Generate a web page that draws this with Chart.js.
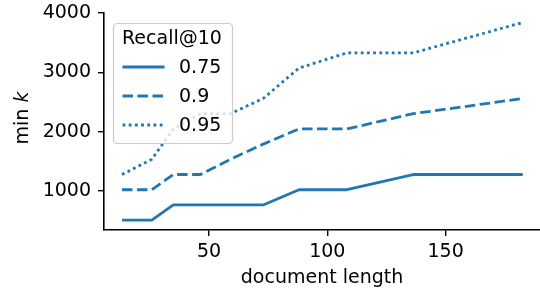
<!DOCTYPE html>
<html>
<head>
<meta charset="utf-8">
<script src="https://cdn.jsdelivr.net/npm/chart.js@4.4.1/dist/chart.umd.min.js"></script>
<style>
html,body{margin:0;padding:0;background:#fff;}
#wrap{width:540px;height:293px;position:relative;}
</style>
</head>
<body>
<div id="wrap"><canvas id="c" width="540" height="293"></canvas></div>
<script>
// Data
const docLength = [13.2, 25.8, 34.9, 46.4, 59, 72.9, 88, 108.3, 136.3, 182.6];
const minK_075 = [512, 512, 768, 768, 768, 768, 1024, 1024, 1280, 1280];
const minK_090 = [1024, 1024, 1280, 1280, 1536, 1792, 2048, 2048, 2304, 2560];
const minK_095 = [1280, 1536, 2048, 2304, 2304, 2560, 3072, 3328, 3328, 3840];
const seriesLabels = ['0.75', '0.9', '0.95'];
const legendTitle = 'Recall@10';
const xTicks = [50, 100, 150];
const yTicks = [1000, 2000, 3000, 4000];
const xTitle = 'document length';

const BLUE = '#1f77b4';
const FONT = 'DejaVu Sans';
const FS = 19;
const LW = 2.8;
const dashes = [[], [10.5, 4.5], [2.8, 3.4]];
const AREA = { left: 104, top: 12.6, right: 540, bottom: 230 };

function pts(ys){ return docLength.map((x,i)=>({x:x, y:ys[i]})); }

const seriesValues = [minK_075, minK_090, minK_095];
const datasets = seriesValues.map((ys, i) => ({
  label: seriesLabels[i],
  data: pts(ys),
  borderColor: BLUE,
  backgroundColor: BLUE,
  borderWidth: LW,
  borderDash: dashes[i],
  borderCapStyle: 'butt',
  borderJoinStyle: 'round',
  pointRadius: 0,
  tension: 0,
  fill: false
}));

const fixArea = {
  id: 'fixArea',
  afterLayout(chart){
    const a = AREA;
    chart.chartArea = { left: a.left, top: a.top, right: a.right, bottom: a.bottom,
      width: a.right - a.left, height: a.bottom - a.top };
    const x = chart.scales.x, y = chart.scales.y;
    x.left = a.left; x.right = a.right; x.width = a.right - a.left;
    x.top = a.bottom; x.bottom = chart.height; x.height = chart.height - a.bottom;
    y.top = a.top; y.bottom = a.bottom; y.height = a.bottom - a.top;
    y.left = 0; y.right = a.left; y.width = a.left;
    x.configure(); y.configure();
  }
};

const overlay = {
  id: 'overlay',
  afterDraw(chart){
    const ctx = chart.ctx;
    const ca = chart.chartArea;
    ctx.save();
    ctx.fillStyle = '#000';
    ctx.font = FS + 'px "' + FONT + '"';
    ctx.textAlign = 'center';
    ctx.textBaseline = 'alphabetic';
    ctx.fillText(xTitle, (ca.left + ca.right)/2, 283);
    ctx.save();
    ctx.translate(28, 118);
    ctx.rotate(-Math.PI/2);
    ctx.textAlign = 'left';
    const normalFont = FS + 'px "' + FONT + '"';
    const italFont = 'oblique ' + FS + 'px "' + FONT + '"';
    ctx.font = normalFont;
    const w1 = ctx.measureText('min ').width;
    ctx.font = italFont;
    const w2 = ctx.measureText('k').width;
    const start = -(w1 + w2)/2;
    ctx.font = normalFont;
    ctx.fillText('min ', start, 0);
    ctx.font = italFont;
    ctx.fillText('k', start + w1, 0);
    ctx.restore();

    const bx = 113.5, by = 23.5, bw = 119, bh = 120, r = 4;
    ctx.beginPath();
    ctx.moveTo(bx + r, by);
    ctx.lineTo(bx + bw - r, by);
    ctx.arcTo(bx + bw, by, bx + bw, by + r, r);
    ctx.lineTo(bx + bw, by + bh - r);
    ctx.arcTo(bx + bw, by + bh, bx + bw - r, by + bh, r);
    ctx.lineTo(bx + r, by + bh);
    ctx.arcTo(bx, by + bh, bx, by + bh - r, r);
    ctx.lineTo(bx, by + r);
    ctx.arcTo(bx, by, bx + r, by, r);
    ctx.closePath();
    ctx.fillStyle = 'rgba(255,255,255,0.8)';
    ctx.fill();
    ctx.strokeStyle = '#cccccc';
    ctx.lineWidth = 1.2;
    ctx.stroke();

    ctx.fillStyle = '#000';
    ctx.font = normalFont;
    ctx.textAlign = 'left';
    ctx.textBaseline = 'middle';
    ctx.fillText(legendTitle, 122, 39);
    const rows = [67, 96, 125];
    rows.forEach((yy, i) => {
      ctx.beginPath();
      ctx.strokeStyle = BLUE;
      ctx.lineWidth = LW;
      ctx.lineCap = 'butt';
      ctx.setLineDash(dashes[i]);
      ctx.moveTo(122.5, yy);
      ctx.lineTo(164.5, yy);
      ctx.stroke();
      ctx.setLineDash([]);
      ctx.fillStyle = '#000';
      ctx.fillText(seriesLabels[i], 179, yy + 1);
    });
    ctx.restore();
  }
};

new Chart(document.getElementById('c'), {
  type: 'line',
  data: { datasets },
  options: {
    responsive: false,
    animation: false,
    devicePixelRatio: 1,
    layout: { autoPadding: false, padding: { top: 12.6, right: 0, left: 0, bottom: 0 } },
    plugins: { legend: { display: false }, tooltip: { enabled: false } },
    scales: {
      x: {
        type: 'linear',
        min: 5.6,
        max: 189.9,
        afterFit(s){ s.height = 63; },
        afterBuildTicks(s){ s.ticks = xTicks.map(v => ({value: v})); },
        border: { display: true, color: '#000', width: 1.6 },
        grid: { display: true, drawOnChartArea: false, drawTicks: true, tickLength: 6, color: '#000', lineWidth: 1.4 },
        ticks: { color: '#000', font: { family: FONT, size: FS }, padding: 5, maxRotation: 0, autoSkip: false, callback: v => String(v) }
      },
      y: {
        type: 'linear',
        min: 346,
        max: 4006,
        afterFit(s){ s.width = 104; },
        afterBuildTicks(s){ s.ticks = yTicks.map(v => ({value: v})); },
        border: { display: true, color: '#000', width: 1.6 },
        grid: { display: true, drawOnChartArea: false, drawTicks: true, tickLength: 6, color: '#000', lineWidth: 1.4 },
        ticks: { color: '#000', font: { family: FONT, size: FS }, padding: 7, autoSkip: false, callback: v => String(v) }
      }
    }
  },
  plugins: [fixArea, overlay]
});
</script>
</body>
</html>
